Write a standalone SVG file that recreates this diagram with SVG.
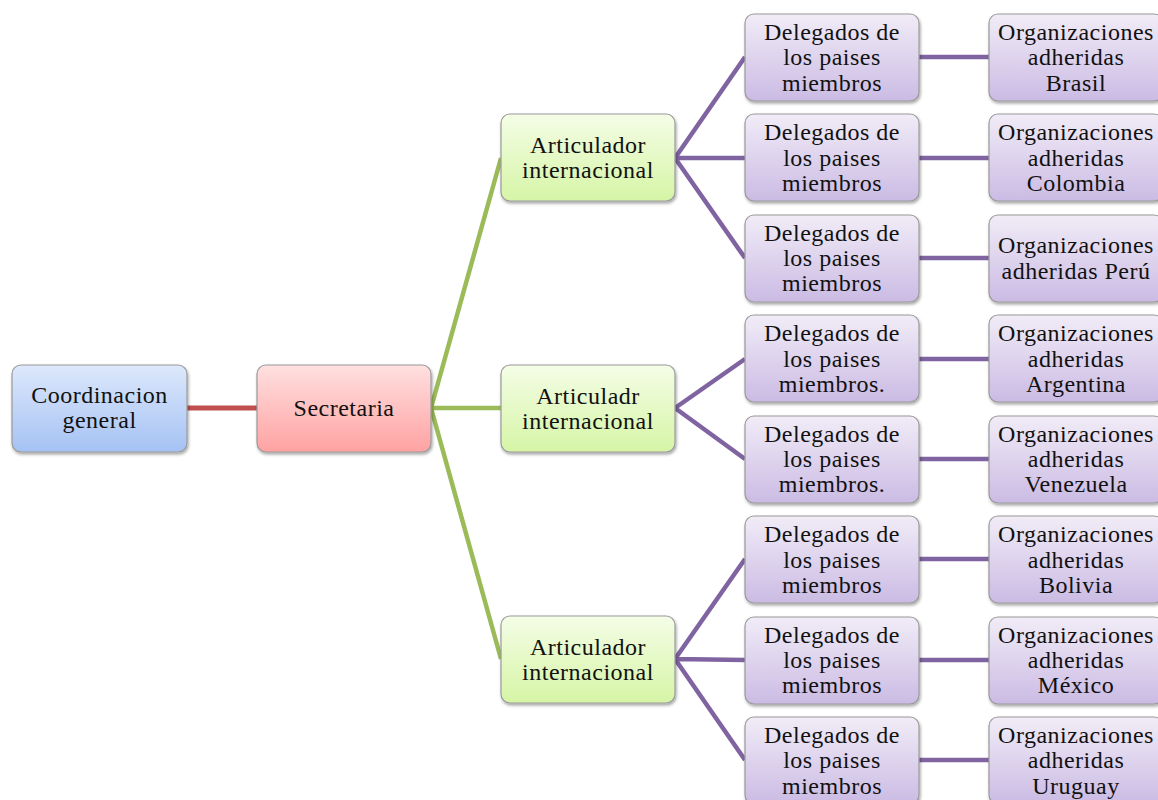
<svg xmlns="http://www.w3.org/2000/svg" width="1158" height="800" viewBox="0 0 1158 800">
<defs>
<linearGradient id="gB" x1="0" y1="0" x2="0" y2="1"><stop offset="0" stop-color="#dde8fb"/><stop offset="1" stop-color="#a5c2f4"/></linearGradient>
<linearGradient id="gR" x1="0" y1="0" x2="0" y2="1"><stop offset="0" stop-color="#ffe0e0"/><stop offset="1" stop-color="#ffa2a2"/></linearGradient>
<linearGradient id="gG" x1="0" y1="0" x2="0" y2="1"><stop offset="0" stop-color="#f4fde6"/><stop offset="1" stop-color="#d6f5a6"/></linearGradient>
<linearGradient id="gP" x1="0" y1="0" x2="0" y2="1"><stop offset="0" stop-color="#f1ecf7"/><stop offset="1" stop-color="#cbbbe4"/></linearGradient>
<filter id="sh" x="-10%" y="-10%" width="125%" height="130%"><feDropShadow dx="1" dy="2" stdDeviation="1.5" flood-color="#000" flood-opacity="0.35"/></filter>
</defs>
<style>
rect{stroke:#9a9a9a;stroke-width:1.2;filter:url(#sh)}
.b{fill:url(#gB)}.r{fill:url(#gR)}.g{fill:url(#gG)}.p{fill:url(#gP)}
text{font-family:"Liberation Serif","DejaVu Serif",serif;font-size:24px;letter-spacing:0.5px;fill:#111;text-anchor:middle}
.cr{stroke:#c0504d;stroke-width:5;fill:none}
.cg{stroke:#9bbb59;stroke-width:4.5;fill:none}
.cp{stroke:#8064a2;stroke-width:4.5;fill:none}
</style>
<g id="connectors">
<line class="cr" x1="187" y1="408" x2="257" y2="408"/>
<path class="cg" d="M431 408L501 158M431 408L501 408M431 408L501 659"/>
<path class="cp" d="M675 158L745 57M675 158L745 158M675 158L745 258M675 408L745 359M675 408L745 459M675 659L745 559M675 659L745 660M675 659L745 760"/>
<path class="cp" d="M919 57H989M919 158H989M919 258H989M919 359H989M919 459H989M919 559H989M919 660H989M919 760H989"/>
</g>
<g id="coord"><rect class="b" x="12" y="365" width="175" height="87" rx="9"/><text x="99.5" y="403">Coordinacion</text><text x="99.5" y="428">general</text></g>
<g id="secretaria"><rect class="r" x="257" y="365" width="174" height="87" rx="9"/><text x="344" y="416">Secretaria</text></g>
<g id="art1"><rect class="g" x="501" y="114" width="174" height="87" rx="9"/><text x="588" y="153">Articulador</text><text x="588" y="178">internacional</text></g>
<g id="art2"><rect class="g" x="501" y="365" width="174" height="87" rx="9"/><text x="588" y="404">Articuladr</text><text x="588" y="429">internacional</text></g>
<g id="art3"><rect class="g" x="501" y="616" width="174" height="87" rx="9"/><text x="588" y="655">Articulador</text><text x="588" y="680">internacional</text></g>
<g id="del1"><rect class="p" x="745" y="14" width="174" height="87" rx="9"/><text x="832" y="40">Delegados de</text><text x="832" y="65">los paises</text><text x="832" y="91">miembros</text></g>
<g id="del2"><rect class="p" x="745" y="114" width="174" height="87" rx="9"/><text x="832" y="140">Delegados de</text><text x="832" y="166">los paises</text><text x="832" y="191">miembros</text></g>
<g id="del3"><rect class="p" x="745" y="215" width="174" height="87" rx="9"/><text x="832" y="241">Delegados de</text><text x="832" y="266">los paises</text><text x="832" y="291">miembros</text></g>
<g id="del4"><rect class="p" x="745" y="315" width="174" height="87" rx="9"/><text x="832" y="341">Delegados de</text><text x="832" y="367">los paises</text><text x="832" y="392">miembros.</text></g>
<g id="del5"><rect class="p" x="745" y="416" width="174" height="87" rx="9"/><text x="832" y="442">Delegados de</text><text x="832" y="467">los paises</text><text x="832" y="492">miembros.</text></g>
<g id="del6"><rect class="p" x="745" y="516" width="174" height="87" rx="9"/><text x="832" y="542">Delegados de</text><text x="832" y="568">los paises</text><text x="832" y="593">miembros</text></g>
<g id="del7"><rect class="p" x="745" y="617" width="174" height="87" rx="9"/><text x="832" y="643">Delegados de</text><text x="832" y="668">los paises</text><text x="832" y="693">miembros</text></g>
<g id="del8"><rect class="p" x="745" y="717" width="174" height="87" rx="9"/><text x="832" y="743">Delegados de</text><text x="832" y="768">los paises</text><text x="832" y="794">miembros</text></g>
<g id="org1"><rect class="p" x="989" y="14" width="174" height="87" rx="9"/><text x="1076" y="40">Organizaciones</text><text x="1076" y="65">adheridas</text><text x="1076" y="91">Brasil</text></g>
<g id="org2"><rect class="p" x="989" y="114" width="174" height="87" rx="9"/><text x="1076" y="140">Organizaciones</text><text x="1076" y="166">adheridas</text><text x="1076" y="191">Colombia</text></g>
<g id="org3"><rect class="p" x="989" y="215" width="174" height="87" rx="9"/><text x="1076" y="253">Organizaciones</text><text x="1076" y="279">adheridas Perú</text></g>
<g id="org4"><rect class="p" x="989" y="315" width="174" height="87" rx="9"/><text x="1076" y="341">Organizaciones</text><text x="1076" y="367">adheridas</text><text x="1076" y="392">Argentina</text></g>
<g id="org5"><rect class="p" x="989" y="416" width="174" height="87" rx="9"/><text x="1076" y="442">Organizaciones</text><text x="1076" y="467">adheridas</text><text x="1076" y="492">Venezuela</text></g>
<g id="org6"><rect class="p" x="989" y="516" width="174" height="87" rx="9"/><text x="1076" y="542">Organizaciones</text><text x="1076" y="568">adheridas</text><text x="1076" y="593">Bolivia</text></g>
<g id="org7"><rect class="p" x="989" y="617" width="174" height="87" rx="9"/><text x="1076" y="643">Organizaciones</text><text x="1076" y="668">adheridas</text><text x="1076" y="693">México</text></g>
<g id="org8"><rect class="p" x="989" y="717" width="174" height="87" rx="9"/><text x="1076" y="743">Organizaciones</text><text x="1076" y="768">adheridas</text><text x="1076" y="794">Uruguay</text></g>
</svg>
